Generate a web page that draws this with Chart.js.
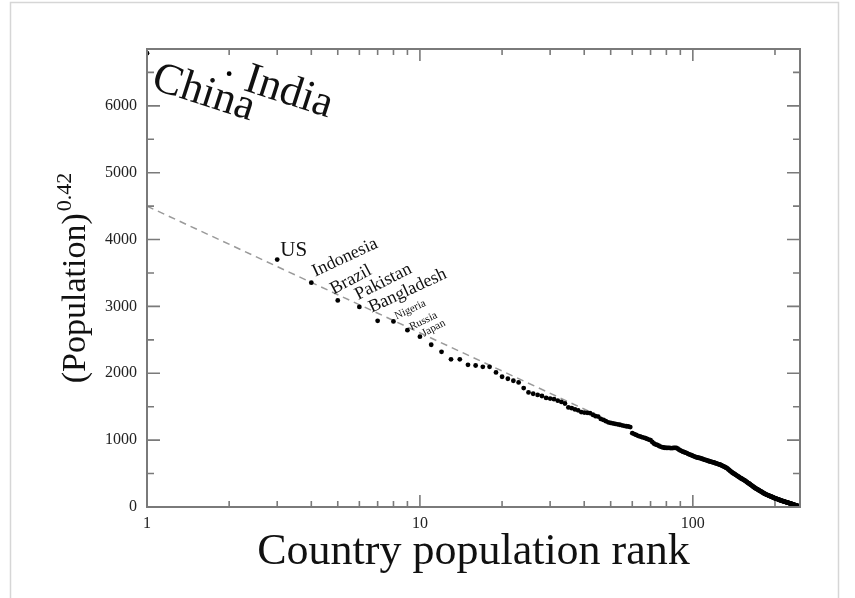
<!DOCTYPE html>
<html>
<head>
<meta charset="utf-8">
<script src="https://cdn.jsdelivr.net/npm/chart.js@4.4.0/dist/chart.umd.min.js"></script>
<style>
html, body { margin: 0; padding: 0; background: #fff; }
canvas { display: block; }
</style>
</head>
<body>
<canvas id="chart-rank" width="855" height="598"></canvas>
<script>
var countryNames = ['China', 'India', 'US', 'Indonesia', 'Brazil', 'Pakistan', 'Bangladesh', 'Nigeria', 'Russia', 'Japan'];

// (population)^0.42 for rank 1, 2, 3 ...
var rankValues = [
    6788, 6481, 3701, 3355, 3090, 2993, 2784, 2776, 2645, 2548,
    2427, 2321, 2209, 2209, 2127, 2116, 2097, 2097, 2013, 1948,
    1918, 1888, 1863, 1779, 1713, 1694, 1676, 1660, 1632, 1622,
    1612, 1590, 1572, 1548, 1490, 1478, 1460, 1446, 1420, 1412,
    1408, 1404, 1380, 1358, 1352, 1318, 1302, 1284, 1266, 1258,
    1250, 1242, 1236, 1230, 1222, 1214, 1208, 1204, 1196, 1104,
    1090, 1078, 1064, 1055, 1046, 1038, 1030, 1018, 1009, 1000,
    972, 950, 936, 928, 916, 904, 896, 890, 886, 884,
    884, 883, 882, 882, 884, 885, 884, 872, 858, 846,
    836, 828, 820, 812, 806, 796, 788, 780, 774, 766,
    758, 750, 744, 740, 736, 733, 728, 722, 716, 710,
    704, 700, 694, 688, 684, 680, 676, 670, 666, 662,
    656, 652, 646, 642, 636, 632, 626, 618, 610, 604,
    598, 590, 584, 574, 562, 552, 540, 530, 520, 510,
    502, 494, 486, 478, 470, 462, 454, 446, 436, 430,
    424, 416, 410, 402, 396, 388, 380, 372, 362, 356,
    348, 340, 332, 324, 316, 308, 300, 292, 286, 278,
    272, 266, 260, 254, 248, 242, 236, 230, 224, 218,
    212, 206, 200, 196, 190, 186, 182, 178, 174, 170,
    166, 162, 158, 154, 150, 146, 142, 138, 134, 130,
    127, 124, 122, 118, 115, 112, 108, 105, 102, 99,
    96, 93, 90, 88, 85, 82, 79, 77, 74, 72,
    69, 67, 64, 62, 59, 57, 54, 52, 49, 46,
    44, 41, 38, 36, 33, 31, 28, 26, 24, 22,
    19, 16, 13, 10, 7, 4, 1
];

// dashed fit line ends (it runs into the data around rank 48)
var fitRanks = [1, 48];
var fitValues = [4500, 1314];

var xMajor = [1, 10, 100];
var xMinor = [2, 3, 4, 5, 6, 7, 8, 9, 20, 30, 40, 50, 60, 70, 80, 90, 200];
var yMajor = [0, 1000, 2000, 3000, 4000, 5000, 6000];
var yMinor = [500, 1500, 2500, 3500, 4500, 5500, 6500];

var points = rankValues.map(function (v, i) { return {x: i + 1, y: v}; });
var fitLine = fitRanks.map(function (r, i) { return {x: r, y: fitValues[i]}; });

var serif = "'Liberation Serif', 'Times New Roman', serif";

// where each name sits next to its dot
var nameStyle = {
    China:      {size: 44, angle: 18,  dx: 3,  dy: 35},
    India:      {size: 44, angle: 18,  dx: 13, dy: 16},
    US:         {size: 21, angle: 0,   dx: 3,  dy: -4},
    Indonesia:  {size: 18, angle: -25, dx: 4,  dy: -6},
    Brazil:     {size: 18, angle: -28, dx: -4, dy: -6},
    Pakistan:   {size: 18, angle: -27, dx: -1, dy: -7},
    Bangladesh: {size: 18, angle: -25, dx: -6, dy: -8},
    Nigeria:    {size: 11, angle: -25, dx: 3,  dy: -2},
    Russia:     {size: 11, angle: -26, dx: 4,  dy: 0},
    Japan:      {size: 11, angle: -28, dx: 4,  dy: 0}
};

var framePlugin = {
    id: 'frame',
    beforeDraw: function (chart) {
        var ctx = chart.ctx;
        ctx.save();
        ctx.fillStyle = '#fff';
        ctx.fillRect(0, 0, chart.width, chart.height);
        ctx.strokeStyle = '#d6d6d6';
        ctx.lineWidth = 1.5;
        ctx.beginPath();
        ctx.moveTo(10.5, chart.height);
        ctx.lineTo(10.5, 2.5);
        ctx.lineTo(838.5, 2.5);
        ctx.lineTo(838.5, chart.height);
        ctx.stroke();
        ctx.restore();
    },
    afterDatasetsDraw: function (chart) {
        var ctx = chart.ctx;
        var a = chart.chartArea;
        var xs = chart.scales.x, ys = chart.scales.y;
        ctx.save();

        // box with inward ticks on all four sides
        ctx.strokeStyle = '#7a7a7a';
        ctx.lineWidth = 2;
        ctx.strokeRect(a.left, a.top, a.right - a.left, a.bottom - a.top);
        ctx.lineWidth = 1.6;
        ctx.beginPath();
        function xTick(v, len) {
            var px = xs.getPixelForValue(v);
            ctx.moveTo(px, a.bottom); ctx.lineTo(px, a.bottom - len);
            ctx.moveTo(px, a.top); ctx.lineTo(px, a.top + len);
        }
        function yTick(v, len) {
            var py = ys.getPixelForValue(v);
            ctx.moveTo(a.left, py); ctx.lineTo(a.left + len, py);
            ctx.moveTo(a.right, py); ctx.lineTo(a.right - len, py);
        }
        xMajor.forEach(function (v) { xTick(v, 12); });
        xMinor.forEach(function (v) { xTick(v, 6); });
        yMajor.forEach(function (v) { yTick(v, 13); });
        yMinor.forEach(function (v) { yTick(v, 7); });
        ctx.stroke();

        // country names
        ctx.fillStyle = '#111';
        ctx.textAlign = 'left';
        ctx.textBaseline = 'alphabetic';
        countryNames.forEach(function (name, i) {
            var st = nameStyle[name];
            var px = xs.getPixelForValue(i + 1);
            var py = ys.getPixelForValue(rankValues[i]);
            ctx.save();
            ctx.translate(px + st.dx, py + st.dy);
            ctx.rotate(st.angle * Math.PI / 180);
            ctx.font = st.size + 'px ' + serif;
            ctx.fillText(name, 0, 0);
            ctx.restore();
        });

        // axis titles
        ctx.font = '44px ' + serif;
        ctx.textAlign = 'center';
        ctx.fillText('Country population rank', (a.left + a.right) / 2, 564);

        var main = '(Population)', sup = '0.42';
        ctx.font = '34px ' + serif;
        var wMain = ctx.measureText(main).width;
        ctx.font = '22px ' + serif;
        var wSup = ctx.measureText(sup).width;
        ctx.translate(85, (a.top + a.bottom) / 2);
        ctx.rotate(-Math.PI / 2);
        ctx.textAlign = 'left';
        var start = -(wMain + wSup + 2) / 2;
        ctx.font = '34px ' + serif;
        ctx.fillText(main, start, 0);
        ctx.font = '22px ' + serif;
        ctx.fillText(sup, start + wMain + 2, -14);

        ctx.restore();
    }
};

var config = {
    type: 'scatter',
    data: {
        datasets: [{
            data: points,
            pointRadius: 2.4,
            pointBorderWidth: 0,
            backgroundColor: '#000',
            borderColor: '#000',
            order: 1
        }, {
            type: 'line',
            data: fitLine,
            borderColor: '#9a9a9a',
            borderWidth: 1.5,
            borderDash: [7, 5],
            pointRadius: 0,
            fill: false,
            order: 2
        }]
    },
    options: {
        responsive: false,
        animation: false,
        layout: {padding: {left: 0, right: 55, top: 49, bottom: 0}},
        plugins: {
            legend: {display: false},
            tooltip: {enabled: false}
        },
        scales: {
            x: {
                type: 'logarithmic',
                min: 1,
                max: 247,
                grid: {display: false, drawTicks: false},
                border: {display: false},
                afterBuildTicks: function (s) { s.ticks = xMajor.map(function (v) { return {value: v}; }); },
                afterFit: function (s) { s.height = 91; },
                ticks: {
                    callback: function (v) { return String(v); },
                    autoSkip: false,
                    maxRotation: 0,
                    padding: 7,
                    color: '#222',
                    font: {family: serif, size: 16}
                }
            },
            y: {
                min: 0,
                max: 6850,
                grid: {display: false, drawTicks: false},
                border: {display: false},
                afterBuildTicks: function (s) { s.ticks = yMajor.map(function (v) { return {value: v}; }); },
                afterFit: function (s) { s.width = 147; },
                ticks: {
                    callback: function (v) { return String(v); },
                    autoSkip: false,
                    padding: 10,
                    color: '#222',
                    font: {family: serif, size: 16}
                }
            }
        }
    },
    plugins: [framePlugin]
};

var ctx = document.getElementById('chart-rank').getContext('2d');
new Chart(ctx, config);
</script>
</body>
</html>
